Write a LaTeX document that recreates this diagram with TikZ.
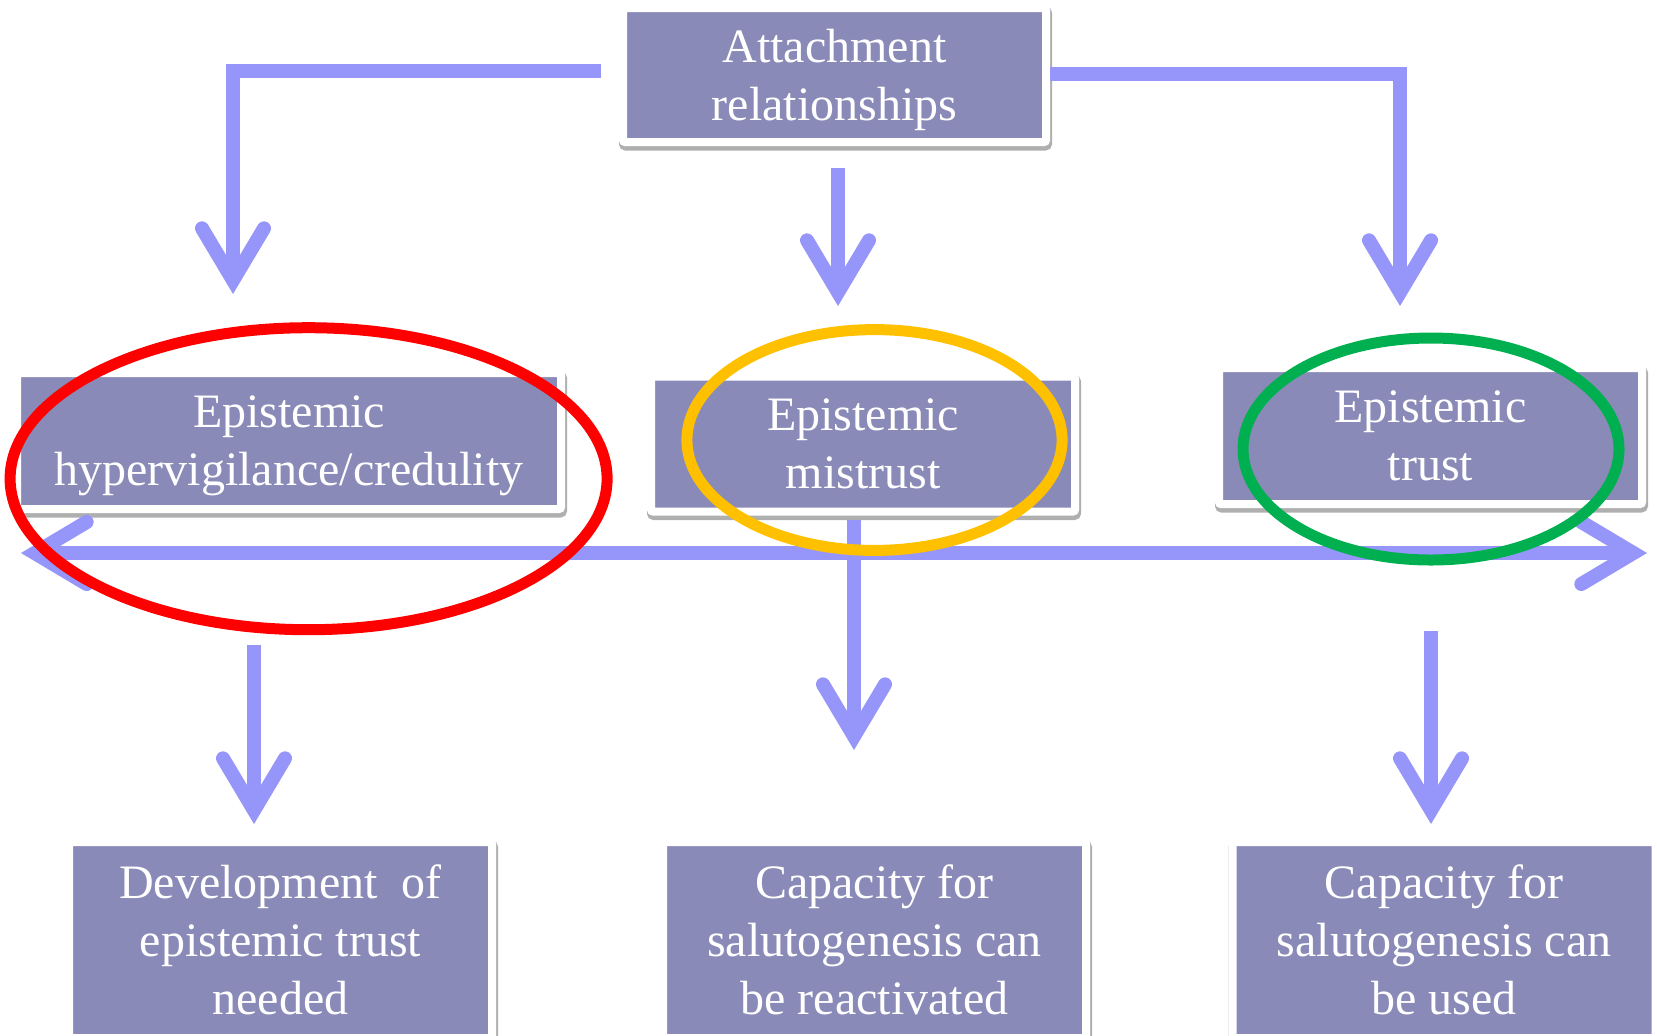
\documentclass[tikz,border=0pt]{standalone}
\usepackage{fontspec}
\setmainfont{Liberation Serif}
\usetikzlibrary{arrows.meta, positioning, shadows}
\definecolor{boxfill}{RGB}{138,138,184}
\definecolor{arrowblue}{RGB}{150,150,250}
\definecolor{ringred}{RGB}{255,0,0}
\definecolor{ringorange}{RGB}{255,192,0}
\definecolor{ringgreen}{RGB}{0,176,80}
\definecolor{shade}{RGB}{175,175,175}

\begin{document}
\begin{tikzpicture}[x=0.5pt, y=-0.5pt,
        barb/.tip={Straight Barb[length=26pt, width=31pt, line cap=round, line join=miter]},
        box/.style={rectangle,
              rounded corners=1pt,
              fill=boxfill,
              draw=white,
              line width=4pt,
              text=white,
              align=center,
              inner sep=0pt,
              text depth=0pt,
              font=\fontsize{24}{29}\selectfont,
              drop shadow={shadow xshift=0.5pt, shadow yshift=-1.75pt, opacity=1,
                           fill=shade, draw=shade, line width=5pt}},
        conn/.style={draw=arrowblue, line width=7pt, -barb},
        ring/.style={draw=#1, line width=5.5pt}]
        \useasboundingbox (0,0) rectangle (1657,1035);

        % boxes
        \node[box, minimum width=211.5pt, minimum height=67pt] (att) at (834.5,75) {Attachment\\relationships};
        \node[box, minimum width=272pt, minimum height=68pt] (hyp) at (289,441) {Epistemic\\hypervigilance/credulity};
        \node[box, minimum width=212pt, minimum height=67.5pt] (mis) at (863,444) {Epistemic\\mistrust};
        \node[box, minimum width=211.5pt, minimum height=68pt] (tru) at (1430.5,436) {Epistemic\\trust};
        \node[box, minimum width=211.5pt, minimum height=98pt] (dev) at (280.5,940) {Development~ of\\epistemic trust\\needed};
        \node[box, minimum width=211.5pt, minimum height=98pt] (capre) at (874.5,940) {Capacity for\\salutogenesis can\\be reactivated};
        \node[box, minimum width=211.5pt, minimum height=98pt] (capuse) at (1444,940) {Capacity for\\salutogenesis can\\be used};

        % arrow ends
        \coordinate (hypIn) at (233,294);
        \coordinate (misIn) at (838,306);
        \coordinate (truIn) at (1400,306);
        \coordinate (axL) at (21,553);
        \coordinate (axR) at (1647,553);
        \coordinate (hypOut) at (254,645);
        \coordinate (devIn) at (254,824);
        \coordinate (capreIn) at (854,750);
        \coordinate (truOut) at (1431,631);
        \coordinate (capuseIn) at (1431,824);

        \draw[conn] ([xshift=-9pt, yshift=2pt]att.west) -| (hypIn);
        \draw[conn] ([yshift=0.5pt]att.east) -| (truIn);
        \draw[conn] ([xshift=1.75pt, yshift=-11pt]att.south) -- (misIn);
        \draw[conn, barb-barb] (axL) -- (axR);
        \draw[conn] (hypOut) -- (devIn);
        \draw[conn] ([xshift=-4.5pt, yshift=-2pt]mis.south) -- (capreIn);
        \draw[conn] (truOut) -- (capuseIn);

        % rings
        \draw[ring=ringred] (308.6,478.7) ellipse [x radius=298.5, y radius=151];
        \draw[ring=ringorange] (874.5,440) ellipse [x radius=187.6, y radius=110.4];
        \draw[ring=ringgreen] (1431,449) ellipse [x radius=188, y radius=111];
\end{tikzpicture}
\end{document}
